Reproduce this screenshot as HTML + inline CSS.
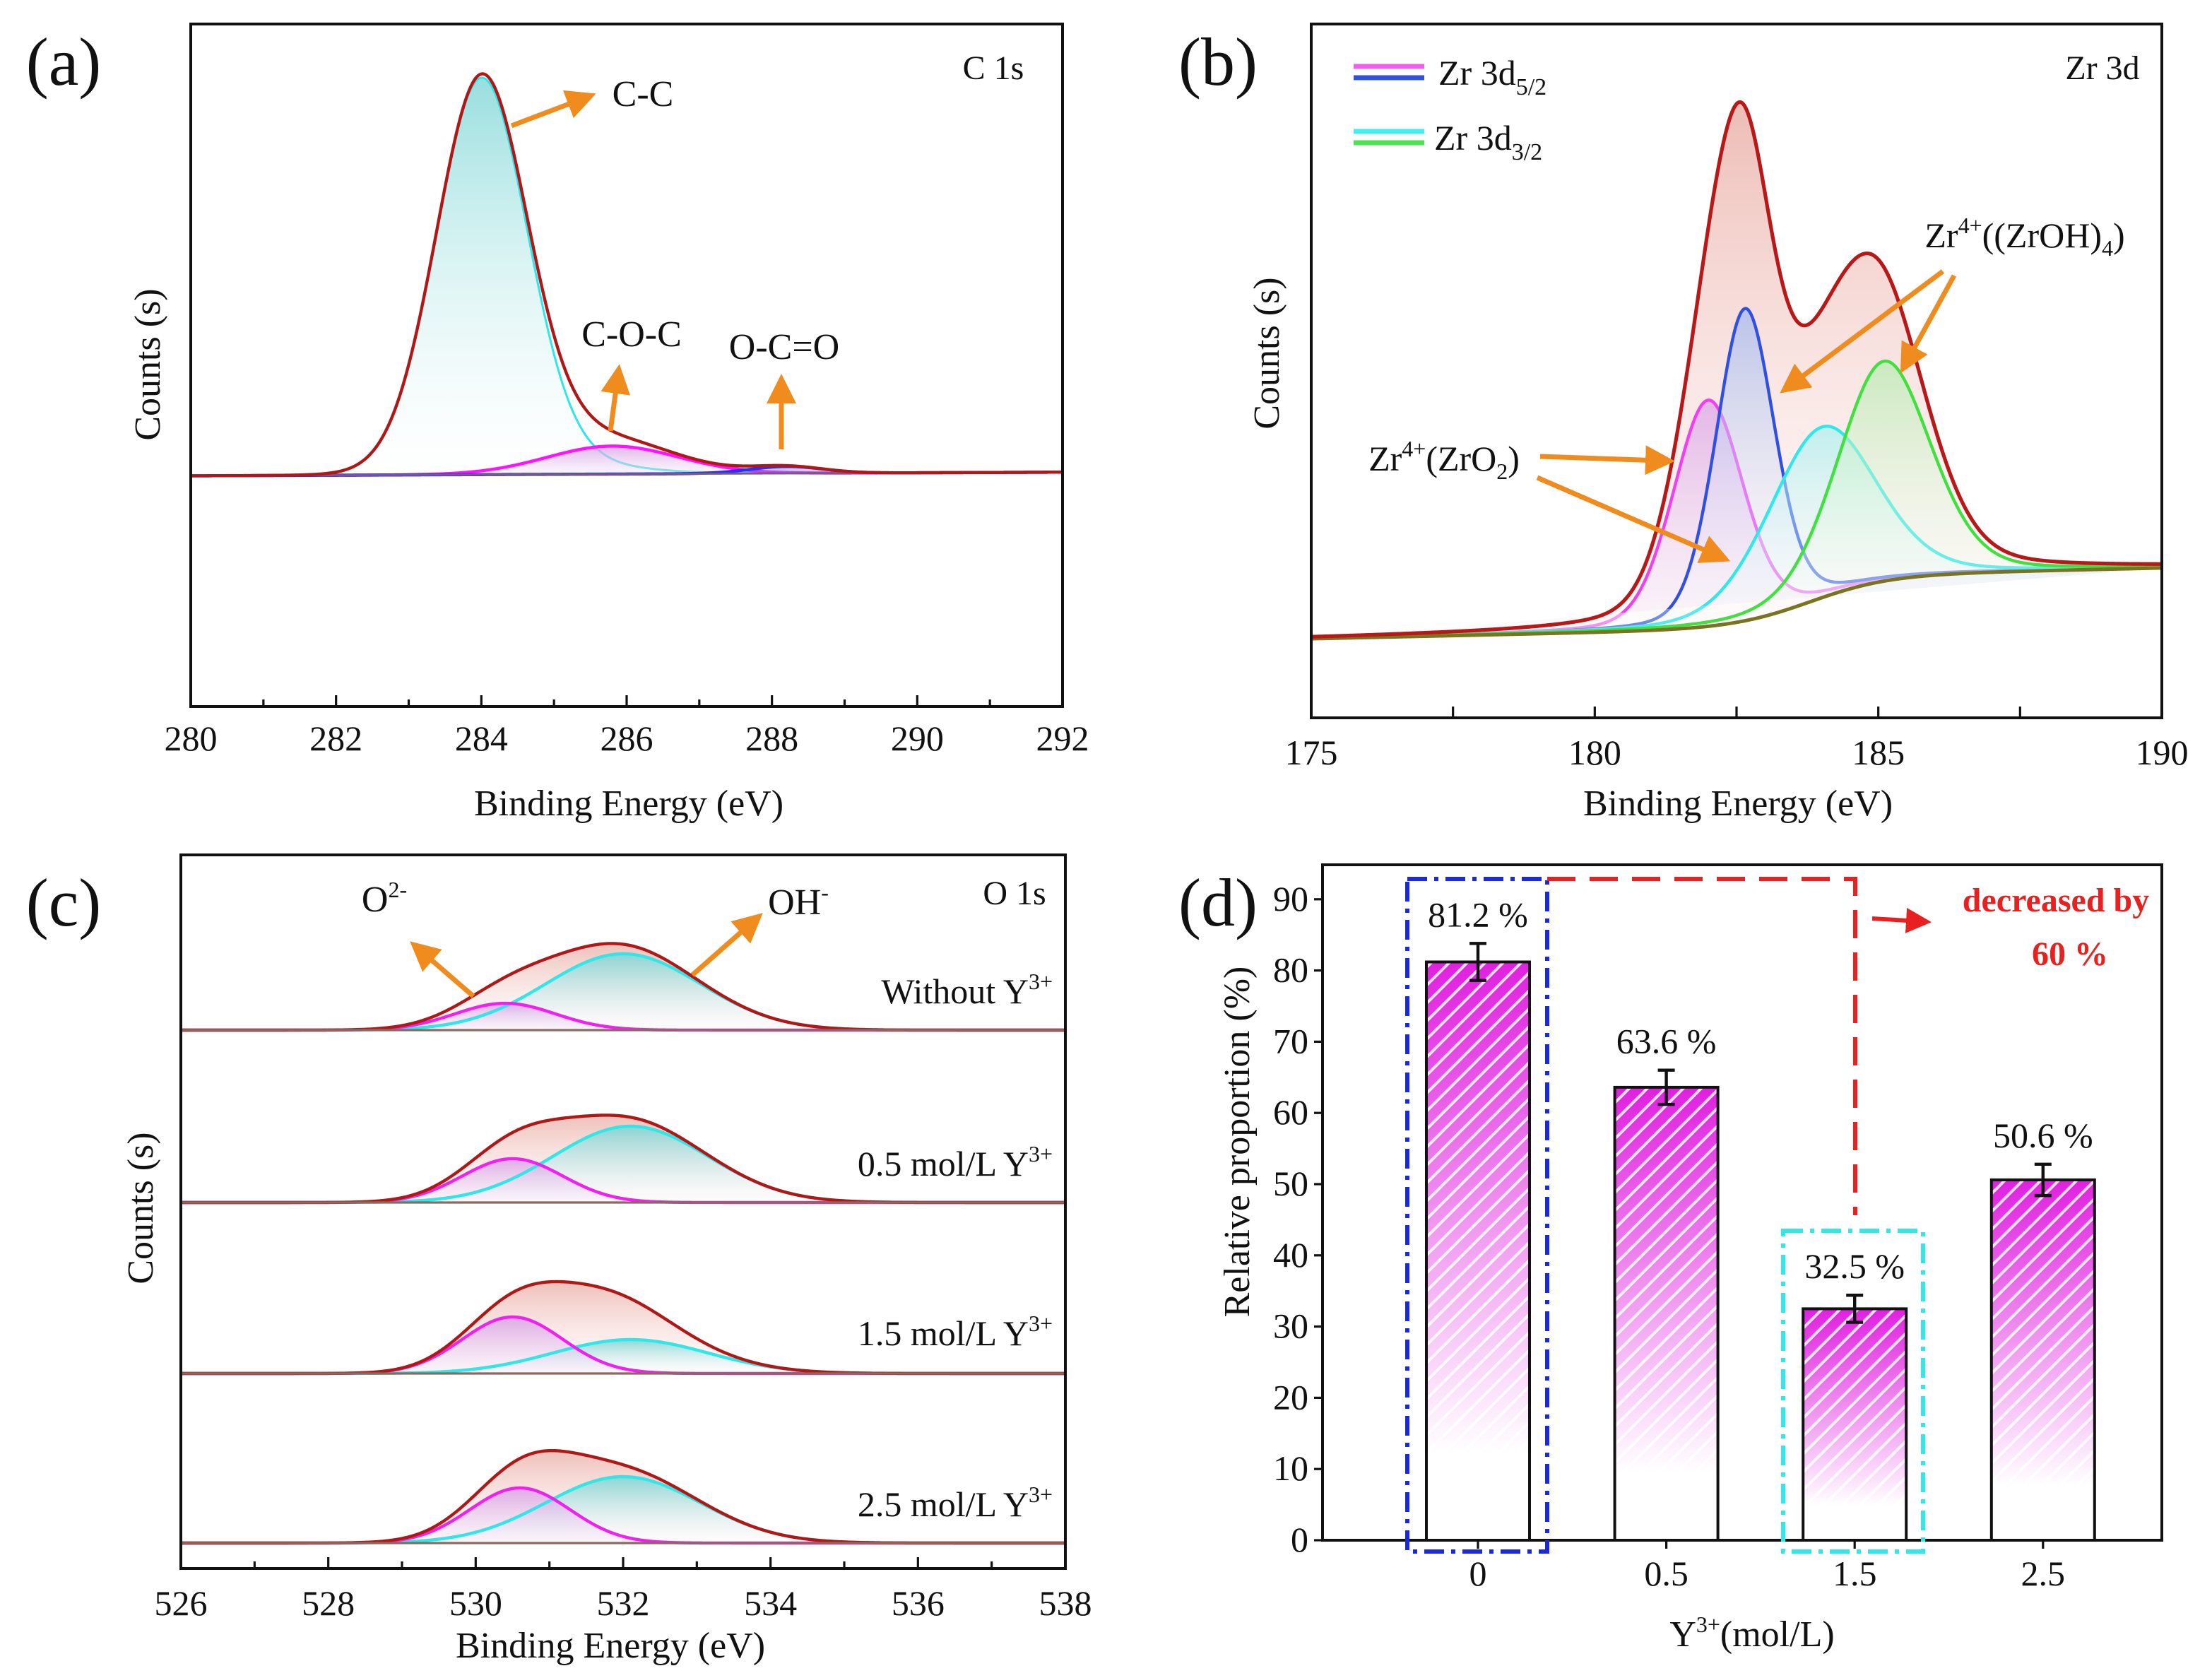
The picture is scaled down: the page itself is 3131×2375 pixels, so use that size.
<!DOCTYPE html>
<html><head><meta charset="utf-8"><style>
html,body{margin:0;padding:0;background:#fff}
svg{display:block}
text{font-family:"Liberation Serif",serif;fill:#111}
</style></head><body>
<svg id="fig" width="3131" height="2375" viewBox="0 0 1565.5 1187.5" xmlns="http://www.w3.org/2000/svg">
<defs>
<linearGradient id="gCyan" x1="0" y1="0" x2="0" y2="1"><stop offset="0" stop-color="#7fd6d6"/><stop offset="1" stop-color="#ffffff" stop-opacity="0.3"/></linearGradient>
<linearGradient id="gPink" x1="0" y1="0" x2="0" y2="1"><stop offset="0" stop-color="#d9a0e6"/><stop offset="1" stop-color="#f4e8f8" stop-opacity="0.4"/></linearGradient>
<linearGradient id="gRed" x1="0" y1="0" x2="0" y2="1"><stop offset="0" stop-color="#eab0a8"/><stop offset="1" stop-color="#fff0f0" stop-opacity="0.3"/></linearGradient>
<linearGradient id="gBlue" x1="0" y1="0" x2="0" y2="1"><stop offset="0" stop-color="#9fb8f0"/><stop offset="1" stop-color="#ffffff" stop-opacity="0.2"/></linearGradient>
<linearGradient id="gGreen" x1="0" y1="0" x2="0" y2="1"><stop offset="0" stop-color="#b6ecb0"/><stop offset="1" stop-color="#ffffff" stop-opacity="0.2"/></linearGradient>
<linearGradient id="gCy2" x1="0" y1="0" x2="0" y2="1"><stop offset="0" stop-color="#a8f0f0"/><stop offset="1" stop-color="#ffffff" stop-opacity="0.2"/></linearGradient>
<linearGradient id="gBar" x1="0" y1="0" x2="0" y2="1"><stop offset="0" stop-color="#e020e0"/><stop offset="0.85" stop-color="#ffffff"/></linearGradient>
<pattern id="hatch" width="9" height="9" patternUnits="userSpaceOnUse" patternTransform="rotate(45)"><rect width="2" height="9" fill="#ffffff" opacity="0.85"/></pattern>
<marker id="arrO" markerWidth="6" markerHeight="6" refX="3" refY="3" orient="auto" markerUnits="strokeWidth"><path d="M0,0 L6,3 L0,6 z" fill="#f08c1e"/></marker>
<marker id="arrR" markerWidth="6" markerHeight="6" refX="3" refY="3" orient="auto" markerUnits="strokeWidth"><path d="M0,0 L6,3 L0,6 z" fill="#e82020"/></marker>
</defs>
</svg>
<script>
// ---------- DATA ----------
// (a) C 1s
const aCenters = [284.0, 285.8, 288.2];
const aHeights = [560, 41, 10];
const aWidths = [0.62, 0.9, 0.5];
const aLabels = ["C-C", "C-O-C", "O-C=O"];
const aTicks = [280, 282, 284, 286, 288, 290, 292];
// (b) Zr 3d
const bCenters = [182.0, 182.65, 184.0, 185.1];
const bHeights = [326, 450, 246, 317];
const bWidths = [0.62, 0.52, 0.95, 0.82];
const bTicks = [175, 180, 185, 190];
// (c) O 1s : O2-, OH- and an unlabelled fitted contribution per sample
const cSamples = ["Without Y3+", "0.5 mol/L Y3+", "1.5 mol/L Y3+", "2.5 mol/L Y3+"];
const cO2Center = [530.4, 530.5, 530.5, 530.6];
const cO2Height = [19, 31, 40, 39];
const cOHCenter = [532.0, 532.1, 532.1, 532.0];
const cOHHeight = [54, 54, 24, 47];
const cMidHeight = [6, 5, 30, 4];
const cTicks = [526, 528, 530, 532, 534, 536, 538];
// (d) bars
const dCats = ["0", "0.5", "1.5", "2.5"];
const dVals = [81.2, 63.6, 32.5, 50.6];
const dErr = [2.6, 2.4, 1.9, 2.2];
const dTicks = [0, 10, 20, 30, 40, 50, 60, 70, 80, 90];

// ---------- HELPERS ----------
const svg = document.getElementById('fig');
const NS = 'http://www.w3.org/2000/svg';
function mk(tag, attrs, parent) {
  const e = document.createElementNS(NS, tag);
  for (const k in attrs) e.setAttribute(k, attrs[k]);
  (parent || svg).appendChild(e);
  return e;
}
function txt(x, y, s, size, parent, extra) {
  const t = mk('text', Object.assign({x: x, y: y, 'font-size': size, 'text-anchor': 'middle'}, extra || {}), parent);
  t.innerHTML = s;
  return t;
}
function gauss(x, c, s, h) { return h * Math.exp(-0.5 * ((x - c) / s) ** 2); }
function pv(x, c, s, h) { const g = 1.1774 * s; return h * (0.78 * Math.exp(-0.5 * ((x - c) / s) ** 2) + 0.22 / (1 + ((x - c) / g) ** 2)); }
function pathFrom(xs, fx, fy) {
  return xs.map((x, i) => (i ? 'L' : 'M') + fx(x).toFixed(2) + ',' + fy(i).toFixed(2)).join(' ');
}
function range(a, b, st) { const r = []; for (let x = a; x <= b + 1e-9; x += st) r.push(x); return r; }

// ---------- PANEL A ----------
(function () {
  const g = mk('g', {}); 
  
  const L = 135, R = 752, T = 17, B = 500;
  const X = v => L + (v - 280) / 12 * (R - L);
  const Y = v => B - v * 0.483;
  const bg = x => 338 + (x - 280) * 0.45;
  const xs = range(280, 292, 0.02);
  const comps = aCenters.map((c, k) => xs.map(x => gauss(x, c, aWidths[k], aHeights[k]) + (k === 0 ? gauss(x, c + 0.6, 1.1, 25) : 0)));
  const env = xs.map((x, i) => bg(x) + comps.reduce((s, cp) => s + cp[i], 0));
  const fills = ['url(#gCyan)', 'url(#gPink)', '#8080ff'];
  const strokes = ['#30e6e6', '#ff10ff', '#2030ff'];
  const names = ['peak-c-c', 'peak-c-o-c', 'peak-o-c-o'];
  comps.forEach((cp, k) => {
    const top = pathFrom(xs, X, i => Y(bg(xs[i]) + cp[i]));
    const p = mk('path', {d: top + ' L' + X(292) + ',' + Y(bg(292)) + ' L' + X(280) + ',' + Y(bg(280)) + 'Z', fill: fills[k], 'fill-opacity': k === 2 ? 0.4 : 0.8}, g);
    
    
    const l = mk('path', {d: top, fill: 'none', stroke: strokes[k], 'stroke-width': k === 0 ? 1.5 : 2.2}, g);
    
    
  });
  const bl = mk('path', {d: pathFrom(xs, X, i => Y(bg(xs[i]))), fill: 'none', stroke: '#7a5a7a', 'stroke-width': 1.5}, g);
  
  
  const ev = mk('path', {d: pathFrom(xs, X, i => Y(env[i])), fill: 'none', stroke: '#b01818', 'stroke-width': 2.2}, g);
  
  
  const box = mk('rect', {x: L, y: T, width: R - L, height: B - T, fill: 'none', stroke: '#111', 'stroke-width': 2}, g);
  
  
  range(280, 292, 1).forEach(v => {
    mk('line', {x1: X(v), x2: X(v), y1: B, y2: B - (v % 2 === 0 ? 8 : 5), stroke: '#111', 'stroke-width': 1.6}, g);
  });
  aTicks.forEach(v => { const t = txt(X(v), B + 31, v, 25, g);   });
  let t = txt(445, 577, 'Binding Energy (eV)', 26, g);  
  t = txt(0, 0, 'Counts (s)', 26, g, {transform: 'translate(113,258) rotate(-90)'});  
  t = txt(45, 60, '(a)', 48, g);  
  t = txt(703, 56, 'C 1s', 24, g);  
  t = txt(455, 75, aLabels[0], 26, g);  
  t = txt(447, 245, aLabels[1], 26, g);  
  t = txt(555, 254, aLabels[2], 26, g);  
  [[362, 89, 412, 70], [432, 305, 437, 268], [553, 318, 553, 275]].forEach(a => {
    const l = mk('line', {x1: a[0], y1: a[1], x2: a[2], y2: a[3], stroke: '#f08c1e', 'stroke-width': 3.5, 'marker-end': 'url(#arrO)'}, g);
    
    
  });
})();

// ---------- PANEL B ----------
(function () {
  const g = mk('g', {}); 
  
  const L = 928, R = 1530, T = 17, B = 508;
  const X = v => L + (v - 175) / 15 * (R - L);
  const Y = v => B - v * 0.491;
  const bg = x => 114 + 75 / (1 + Math.exp(-(x - 183.8) / 0.7)) + (x - 175) * 1.8;
  const xs = range(175, 190, 0.02);
  const comps = bCenters.map((c, k) => xs.map(x => pv(x, c, bWidths[k], bHeights[k])));
  const env = xs.map((x, i) => bg(x) + comps.reduce((s, cp) => s + cp[i], 0));
  const envP = pathFrom(xs, X, i => Y(env[i]));
  const ef = mk('path', {d: envP + ' L' + X(190) + ',' + Y(bg(190)) + ' ' + pathFrom(xs.slice().reverse(), X, i => Y(bg(xs[xs.length - 1 - i]))).replace('M', 'L') + 'Z', fill: 'url(#gRed)', 'fill-opacity': 0.85}, g);
  
  
  const fills = ['url(#gPink)', 'url(#gBlue)', 'url(#gCy2)', 'url(#gGreen)'];
  const strokes = ['#f040f0', '#3050e0', '#30e8e8', '#40e040'];
  const names = ['peak-zr3d52-zro2', 'peak-zr3d52-zroh', 'peak-zr3d32-zro2', 'peak-zr3d32-zroh'];
  comps.forEach((cp, k) => {
    const top = pathFrom(xs, X, i => Y(bg(xs[i]) + cp[i]));
    const p = mk('path', {d: top + ' L' + X(190) + ',' + Y(bg(190)) + ' L' + X(175) + ',' + Y(bg(175)) + 'Z', fill: fills[k], 'fill-opacity': 0.7}, g);
    
    
    const l = mk('path', {d: top, fill: 'none', stroke: strokes[k], 'stroke-width': 2.2}, g);
    
    
  });
  const bl = mk('path', {d: pathFrom(xs, X, i => Y(bg(xs[i]))), fill: 'none', stroke: '#7a7420', 'stroke-width': 2.5}, g);
  
  
  const ev = mk('path', {d: envP, fill: 'none', stroke: '#b81818', 'stroke-width': 2.6}, g);
  
  
  const box = mk('rect', {x: L, y: T, width: R - L, height: B - T, fill: 'none', stroke: '#111', 'stroke-width': 2}, g);
  
  
  range(175, 190, 2.5).forEach(v => mk('line', {x1: X(v), x2: X(v), y1: B, y2: B - 8, stroke: '#111', 'stroke-width': 1.6}, g));
  bTicks.forEach(v => { const t = txt(X(v), B + 33, v, 25, g);   });
  let t = txt(1230, 577, 'Binding Energy (eV)', 26, g);  
  t = txt(0, 0, 'Counts (s)', 26, g, {transform: 'translate(905,250) rotate(-90)'});  
  t = txt(862, 60, '(b)', 48, g);  
  t = txt(1488, 56, 'Zr 3d', 24, g);  
  [['#f060f0', 47], ['#3050e0', 55], ['#40f0f0', 93], ['#50e050', 101]].forEach(s => {
    const l = mk('line', {x1: 958, x2: 1008, y1: s[1], y2: s[1], stroke: s[0], 'stroke-width': 3.5}, g);
    
    
  });
  t = txt(1018, 60, 'Zr 3d<tspan font-size="17" dy="7">5/2</tspan>', 25, g, {'text-anchor': 'start'});  
  t = txt(1015, 106, 'Zr 3d<tspan font-size="17" dy="7">3/2</tspan>', 25, g, {'text-anchor': 'start'});  
  t = txt(1022, 333, 'Zr<tspan font-size="16" dy="-10">4+</tspan><tspan dy="10">(ZrO</tspan><tspan font-size="16" dy="6">2</tspan><tspan dy="-6">)</tspan>', 25, g);  
  t = txt(1433, 175, 'Zr<tspan font-size="16" dy="-10">4+</tspan><tspan dy="10">((ZrOH)</tspan><tspan font-size="16" dy="6">4</tspan><tspan dy="-6">)</tspan>', 25, g);  
  [[1090, 323, 1175, 326], [1088, 338, 1215, 393], [1375, 192, 1268, 272], [1383, 195, 1350, 255]].forEach(a => {
    const l = mk('line', {x1: a[0], y1: a[1], x2: a[2], y2: a[3], stroke: '#f08c1e', 'stroke-width': 3.5, 'marker-end': 'url(#arrO)'}, g);
    
    
  });
})();

// ---------- PANEL C ----------
(function () {
  const g = mk('g', {}); 
  
  const L = 128, R = 754, T = 605, B = 1110;
  const X = v => L + (v - 526) / 12 * (R - L);
  const bases = [729, 851, 972, 1092];
  const xs = range(526, 538, 0.02);
  const labelY = [710, 832, 952, 1073];
  cSamples.forEach((name, k) => {
    const Y = v => bases[k] - v;
    const o2 = xs.map(x => gauss(x, cO2Center[k], 0.68, cO2Height[k]));
    const oh = xs.map(x => gauss(x, cOHCenter[k], 1.05, cOHHeight[k]));
    const mid = xs.map(x => gauss(x, 531.7, 0.8, cMidHeight[k]));
    const env = xs.map((x, i) => o2[i] + oh[i] + mid[i]);
    const close = ' L' + X(538) + ',' + bases[k] + ' L' + X(526) + ',' + bases[k] + 'Z';
    const envP = pathFrom(xs, X, i => Y(env[i]));
    const ef = mk('path', {d: envP + close, fill: 'url(#gRed)', 'fill-opacity': 0.8}, g);
    
    
    const ohP = pathFrom(xs, X, i => Y(oh[i]));
    const f1 = mk('path', {d: ohP + close, fill: 'url(#gCyan)', 'fill-opacity': 0.9}, g);
    
    
    const o2P = pathFrom(xs, X, i => Y(o2[i]));
    const f2 = mk('path', {d: o2P + close, fill: 'url(#gPink)', 'fill-opacity': 0.85}, g);
    
    
    const l1 = mk('path', {d: ohP, fill: 'none', stroke: '#30e6e6', 'stroke-width': 2.2}, g);
    
    
    const l2 = mk('path', {d: o2P, fill: 'none', stroke: '#f020f0', 'stroke-width': 2.2}, g);
    
    
    const l3 = mk('path', {d: envP, fill: 'none', stroke: '#b01818', 'stroke-width': 2.2}, g);
    
    
    const bl = mk('line', {x1: L, x2: R, y1: bases[k], y2: bases[k], stroke: '#8a6a60', 'stroke-width': 1.6}, g);
    
    
    const parts = name.split(' Y3+');
    const t = txt(745, labelY[k], parts[0] + ' Y<tspan font-size="16" dy="-10">3+</tspan>', 25, g, {'text-anchor': 'end'});
    
    
  });
  const box = mk('rect', {x: L, y: T, width: R - L, height: B - T, fill: 'none', stroke: '#111', 'stroke-width': 2}, g);
  
  
  range(526, 538, 1).forEach(v => mk('line', {x1: X(v), x2: X(v), y1: B, y2: B - (v % 2 === 0 ? 8 : 5), stroke: '#111', 'stroke-width': 1.6}, g));
  cTicks.forEach(v => { const t = txt(X(v), B + 33, v, 25, g);   });
  let t = txt(432, 1173, 'Binding Energy (eV)', 26, g);  
  t = txt(0, 0, 'Counts (s)', 26, g, {transform: 'translate(108,855) rotate(-90)'});  
  t = txt(45, 655, '(c)', 48, g);  
  t = txt(718, 640, 'O 1s', 24, g);  
  t = txt(272, 645, 'O<tspan font-size="16" dy="-10">2-</tspan>', 26, g);  
  t = txt(565, 647, 'OH<tspan font-size="16" dy="-10">-</tspan>', 26, g);  
  [[335, 705, 298, 673], [490, 690, 532, 653]].forEach(a => {
    const l = mk('line', {x1: a[0], y1: a[1], x2: a[2], y2: a[3], stroke: '#f08c1e', 'stroke-width': 3.5, 'marker-end': 'url(#arrO)'}, g);
    
    
  });
})();

// ---------- PANEL D ----------
(function () {
  const g = mk('g', {}); 
  
  const L = 936, R = 1530, T = 612, B = 1090;
  const Y = v => B - v * 5.04;
  const X = i => 1046 + i * 133.3;
  const bw = 73;
  dVals.forEach((v, i) => {
    const r = mk('rect', {x: X(i) - bw / 2, y: Y(v), width: bw, height: B - Y(v), fill: 'url(#gBar)', stroke: 'none'}, g);
    
    
    mk('rect', {x: X(i) - bw / 2, y: Y(v), width: bw, height: B - Y(v), fill: 'url(#hatch)', stroke: '#111', 'stroke-width': 2}, g);
    const e = mk('path', {d: 'M' + X(i) + ',' + Y(v + dErr[i]) + ' V' + Y(v - dErr[i]) + ' M' + (X(i) - 6) + ',' + Y(v + dErr[i]) + ' h12 M' + (X(i) - 6) + ',' + Y(v - dErr[i]) + ' h12', stroke: '#111', 'stroke-width': 2.2, fill: 'none'}, g);
    
    
    const t = txt(X(i), Y(v + dErr[i]) - 12, v.toFixed(1) + ' %', 25, g);
    
    
    const c = txt(X(i), B + 32, dCats[i], 25, g);
    
    
    mk('line', {x1: X(i), x2: X(i), y1: B, y2: B + 6, stroke: '#111', 'stroke-width': 1.6}, g);
  });
  const box = mk('rect', {x: L, y: T, width: R - L, height: B - T, fill: 'none', stroke: '#111', 'stroke-width': 2}, g);
  
  
  dTicks.forEach(v => {
    mk('line', {x1: L - 6, x2: L, y1: Y(v), y2: Y(v), stroke: '#111', 'stroke-width': 1.6}, g);
    const t = txt(L - 10, Y(v) + 8, v, 25, g, {'text-anchor': 'end'});
    
    
  });
  const b1 = mk('rect', {x: 996, y: 622, width: 99, height: 476, fill: 'none', stroke: '#1a28e0', 'stroke-width': 3, 'stroke-dasharray': '14 5 3 5'}, g);
  
  
  const b2 = mk('rect', {x: 1262, y: 871, width: 99, height: 227, fill: 'none', stroke: '#30e8e8', 'stroke-width': 3, 'stroke-dasharray': '14 5 3 5'}, g);
  
  
  const rd = mk('path', {d: 'M1095,622 H1313 V860', fill: 'none', stroke: '#e82020', 'stroke-width': 3, 'stroke-dasharray': '20 10'}, g);
  
  
  const ra = mk('line', {x1: 1325, y1: 650, x2: 1358, y2: 652, stroke: '#e82020', 'stroke-width': 3, 'marker-end': 'url(#arrR)'}, g);
  
  
  let t = txt(1455, 645, 'decreased by', 24, g, {'font-weight': 'bold', style: 'fill:#e82020'});  
  t = txt(1465, 683, '60 %', 24, g, {'font-weight': 'bold', style: 'fill:#e82020'});  
  t = txt(1240, 1165, 'Y<tspan font-size="16" dy="-10">3+</tspan><tspan dy="10">(mol/L)</tspan>', 26, g);  
  t = txt(0, 0, 'Relative proportion (%)', 26, g, {transform: 'translate(884,808) rotate(-90)'});  
  t = txt(862, 655, '(d)', 48, g);  
})();
</script>
</body></html>
